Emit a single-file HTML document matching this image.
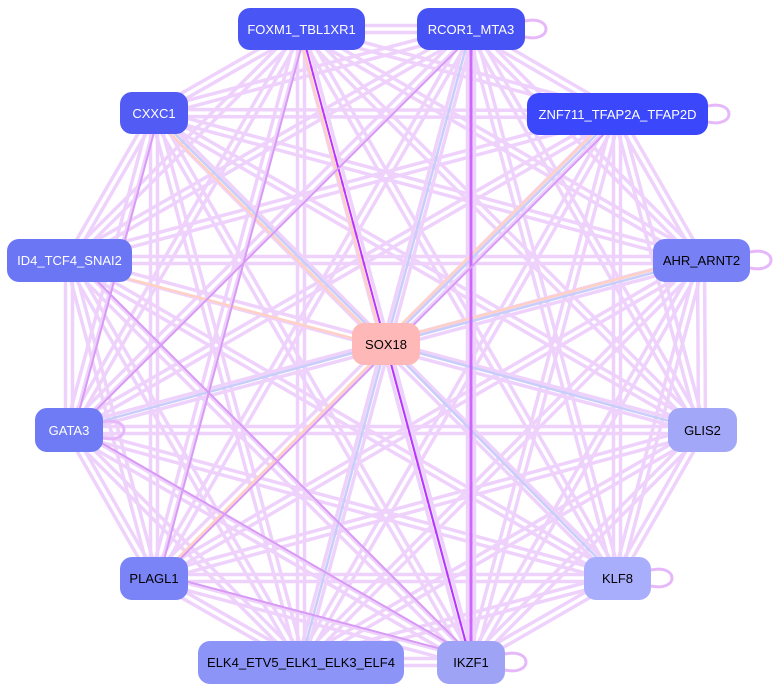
<!DOCTYPE html>
<html><head><meta charset="utf-8"><style>
html,body{margin:0;padding:0;background:#fff;width:784px;height:692px;overflow:hidden}
.n{position:absolute;border-radius:12px;font-family:"Liberation Sans",sans-serif;font-size:13px;display:flex;align-items:center;justify-content:center;box-sizing:border-box}
</style></head><body>
<svg id="g" width="784" height="692" style="position:absolute;left:0;top:0">
</svg>
<div class="n" style="left:238px;top:8px;width:127px;height:42px;background:#4a55f5;color:#fff">FOXM1_TBL1XR1</div>
<div class="n" style="left:417px;top:8px;width:108px;height:42px;background:#4752f5;color:#fff">RCOR1_MTA3</div>
<div class="n" style="left:120px;top:92px;width:68px;height:42px;background:#525cf5;color:#fff">CXXC1</div>
<div class="n" style="left:527px;top:93px;width:181px;height:42px;background:#3a47fb;color:#fff">ZNF711_TFAP2A_TFAP2D</div>
<div class="n" style="left:7px;top:239px;width:125px;height:43px;background:#6b76f5;color:#fff">ID4_TCF4_SNAI2</div>
<div class="n" style="left:653px;top:239px;width:97px;height:43px;background:#7880f5;color:#000">AHR_ARNT2</div>
<div class="n" style="left:352px;top:323px;width:68px;height:42px;background:#ffb8b8;color:#000">SOX18</div>
<div class="n" style="left:35px;top:408px;width:68px;height:44px;background:#6f7af5;color:#fff">GATA3</div>
<div class="n" style="left:668px;top:408px;width:69px;height:44px;background:#a2a7f7;color:#000">GLIS2</div>
<div class="n" style="left:120px;top:557px;width:68px;height:43px;background:#7b84f6;color:#000">PLAGL1</div>
<div class="n" style="left:584px;top:557px;width:67px;height:43px;background:#a9aefc;color:#000">KLF8</div>
<div class="n" style="left:198px;top:641px;width:206px;height:43px;background:#8c94f8;color:#000">ELK4_ETV5_ELK1_ELK3_ELF4</div>
<div class="n" style="left:437px;top:641px;width:68px;height:43px;background:#9ea3f5;color:#000">IKZF1</div>
<script>
var N={F:[301,29],R:[471,29],C:[154,113],Z:[617,114],I:[69,260],A:[701,260],S:[386,344],G:[69,430],L:[702,430],P:[154,578],K:[617,578],E:[301,662],Y:[471,662]};
var s=document.getElementById('g'),ns='http://www.w3.org/2000/svg';
function ln(a,b,c,w,o){var e=document.createElementNS(ns,'line');var p=N[a],q=N[b];
var dx=q[0]-p[0],dy=q[1]-p[1],d=Math.hypot(dx,dy),k=(o||0);
e.setAttribute('x1',p[0]+k*dy/d);e.setAttribute('y1',p[1]-k*dx/d);e.setAttribute('x2',q[0]+k*dy/d);e.setAttribute('y2',q[1]-k*dx/d);
e.setAttribute('stroke',c);e.setAttribute('stroke-width',w);s.appendChild(e);}
var k=Object.keys(N).filter(x=>x!='S');
for(var i=0;i<k.length;i++)for(var j=i+1;j<k.length;j++){ln(k[i],k[j],'#eed2fc',3.5,3.5);ln(k[j],k[i],'#eed2fc',3.5,3.5);}
['C','G','L','K','Y','E','A','R','Z'].forEach(x=>ln(x,'S','#c8cefa',2.5));
['F','C','I','Z','A','P'].forEach(x=>ln('S',x,'#ffd0c4',2.5,3));
ln('F','Y','#bb33ff',2);ln('R','Y','#cc66ff',3);
[['I','Y'],['G','Y'],['C','G'],['R','G'],['Z','P'],['P','Y'],['F','P']].forEach(x=>ln(x[0],x[1],'#d89af5',2,5));
function loop(x,y){var e=document.createElementNS(ns,'path');e.setAttribute('d','M'+x+','+(y-8)+' C'+(x+28)+','+(y-14)+' '+(x+28)+','+(y+14)+' '+x+','+(y+8));
e.setAttribute('fill','none');e.setAttribute('stroke','#e6b8fa');e.setAttribute('stroke-width',3);s.appendChild(e);}
loop(525,29);loop(708,114);loop(750,260);loop(651,578);loop(505,662);loop(103,430);
</script>
</body></html>
